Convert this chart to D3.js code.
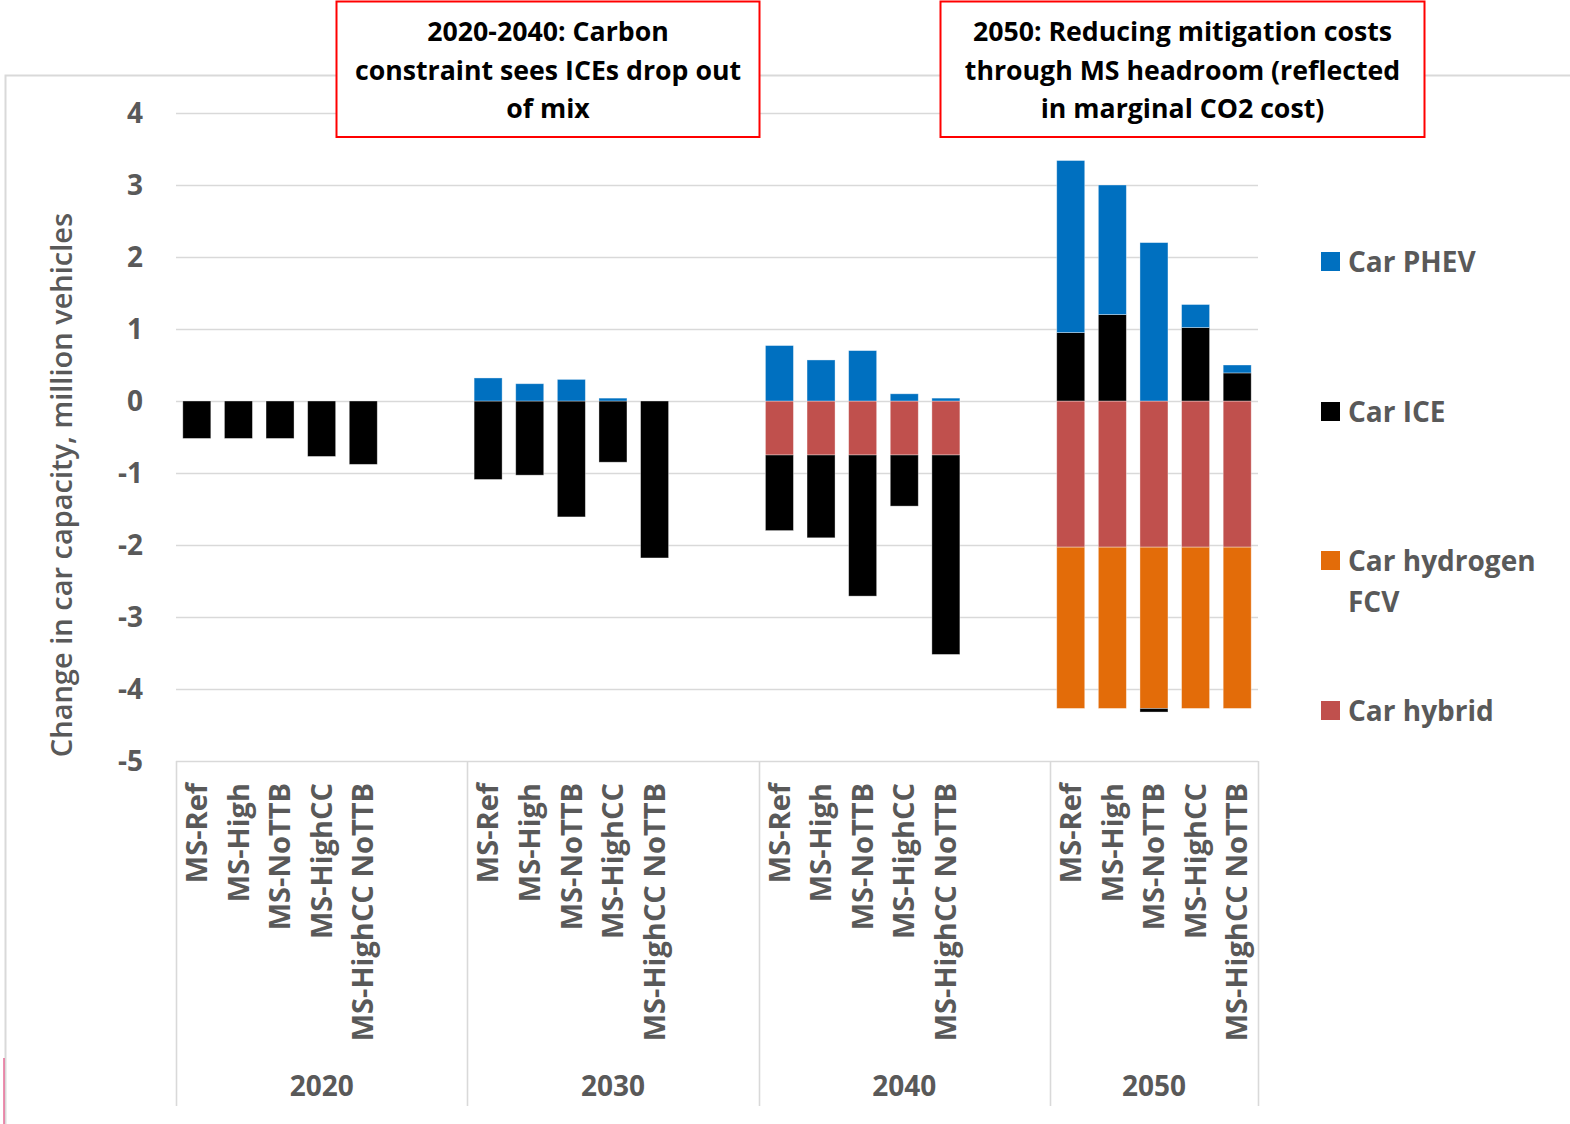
<!DOCTYPE html>
<html><head><meta charset="utf-8">
<script src="https://cdn.jsdelivr.net/npm/d3@7/dist/d3.min.js"></script>
<style>
html,body{margin:0;padding:0;background:#fff;}
svg{display:block;}
text{font-family:"Open Sans",sans-serif;}
</style></head>
<body>
<svg id="chart" width="1570" height="1124"></svg>
<script>
// ---------- data ----------
const years = ["2020", "2030", "2040", "2050"];
const scenarios = ["MS-Ref", "MS-High", "MS-NoTTB", "MS-HighCC", "MS-HighCC NoTTB"];
// values per bar, ordered year by year, scenario by scenario
const carPHEV   = [0, 0, 0, 0, 0,   0.32, 0.24, 0.30, 0.04, 0,   0.77, 0.57, 0.70, 0.10, 0.04,   2.39, 1.80, 2.20, 0.32, 0.11];
const carICE    = [-0.52, -0.52, -0.52, -0.77, -0.88,   -1.09, -1.03, -1.61, -0.85, -2.18,   -1.05, -1.15, -1.96, -0.71, -2.77,   0.95, 1.20, -0.05, 1.02, 0.39];
const carFCV    = [0, 0, 0, 0, 0,   0, 0, 0, 0, 0,   0, 0, 0, 0, 0,   -2.24, -2.24, -2.24, -2.24, -2.24];
const carHybrid = [0, 0, 0, 0, 0,   0, 0, 0, 0, 0,   -0.75, -0.75, -0.75, -0.75, -0.75,   -2.03, -2.03, -2.03, -2.03, -2.03];
const yTicks = [4, 3, 2, 1, 0, -1, -2, -3, -4, -5];
const seriesNames = ["Car hybrid", "Car hydrogen FCV", "Car ICE", "Car PHEV"];
const seriesColors = ["#C0504D", "#E36C09", "#000000", "#0070C0"];
const legendOrder = ["Car PHEV", "Car ICE", "Car hydrogen FCV", "Car hybrid"];
const notes = [
  ["2020-2040: Carbon", "constraint sees ICEs drop out", "of mix"],
  ["2050: Reducing mitigation costs", "through MS headroom (reflected", "in marginal CO2 cost)"]
];

// ---------- build table ----------
const slotsPerGroup = 7; // 5 bars + 2 empty slots
const nSlots = slotsPerGroup * (years.length - 1) + scenarios.length;
const rows = [];
years.forEach((yr, g) => scenarios.forEach((sc, i) => {
  const k = g * scenarios.length + i;
  rows.push({slot: g * slotsPerGroup + i, year: yr, scenario: sc,
    "Car hybrid": carHybrid[k], "Car hydrogen FCV": carFCV[k], "Car ICE": carICE[k], "Car PHEV": carPHEV[k]});
}));

const svg = d3.select("#chart");
const plotL = 176, plotR = 1258, plotT = 113, plotB = 761;
const gray = "#595959", grid = "#D9D9D9";

const pi = 0.327;
const x = d3.scaleBand().domain(d3.range(nSlots)).range([plotL, plotR]).paddingInner(pi).paddingOuter(pi / 2);
const y = d3.scaleLinear().domain([-5, 4]).range([plotB, plotT]);

// chart border
svg.append("path").attr("d", `M5.5,1124 V75.5 H1570`).attr("fill", "none").attr("stroke", grid).attr("stroke-width", 2);
svg.append("line").attr("x1", 4).attr("x2", 4).attr("y1", 1058).attr("y2", 1124).attr("stroke", "#E0457B").attr("stroke-width", 1.2);

// gridlines
svg.append("g").selectAll("line").data(yTicks).join("line")
  .attr("x1", plotL).attr("x2", plotR)
  .attr("y1", d => Math.round(y(d)) + 0.5).attr("y2", d => Math.round(y(d)) + 0.5)
  .attr("stroke", grid).attr("stroke-width", 1.6);

// y axis labels
const yAxis = d3.axisLeft(y).tickValues(yTicks).tickSize(0).tickPadding(0).tickFormat(d => String(d));
const ya = svg.append("g").attr("transform", `translate(143,0)`).call(yAxis);
ya.select(".domain").remove();
ya.selectAll("text").attr("fill", gray).attr("font-size", 28).attr("font-weight", 700)
  .attr("font-family", "Open Sans").attr("dy", "0.35em");

// bars
const stack = d3.stack().keys(seriesNames).offset(d3.stackOffsetDiverging);
const stacked = stack(rows);
const color = d3.scaleOrdinal().domain(seriesNames).range(seriesColors);
svg.append("g").selectAll("g").data(stacked).join("g")
  .attr("fill", d => color(d.key))
  .selectAll("rect").data(d => d.filter(p => p[1] - p[0] !== 0)).join("rect")
  .attr("x", d => x(d.data.slot))
  .attr("width", x.bandwidth())
  .attr("y", d => y(d[1]))
  .attr("height", d => y(d[0]) - y(d[1]))
  .attr("stroke", "#fff").attr("stroke-opacity", 0.45).attr("stroke-width", 0.8);

// category axis: separators
const step = x.step();
const seps = years.map((_, g) => plotL + g * slotsPerGroup * step).concat([plotR]);
svg.append("g").selectAll("line").data(seps).join("line")
  .attr("x1", d => Math.round(d) + 0.5).attr("x2", d => Math.round(d) + 0.5)
  .attr("y1", plotB).attr("y2", 1106)
  .attr("stroke", grid).attr("stroke-width", 1.6);

// scenario labels
svg.append("g").selectAll("text").data(rows).join("text")
  .attr("transform", d => `translate(${x(d.slot) + x.bandwidth() / 2},783) rotate(-90)`)
  .attr("text-anchor", "end").attr("dy", "0.35em")
  .attr("fill", gray).attr("font-size", 29).attr("font-weight", 700)
  .text(d => d.scenario);

// year labels
svg.append("g").selectAll("text").data(years).join("text")
  .attr("x", (d, g) => (seps[g] + seps[g + 1]) / 2).attr("y", 1096)
  .attr("text-anchor", "middle")
  .attr("fill", gray).attr("font-size", 28).attr("font-weight", 700)
  .text(d => d);

// y title
svg.append("text")
  .attr("transform", `translate(62,485) rotate(-90)`)
  .attr("text-anchor", "middle").attr("dy", "0.35em")
  .attr("fill", gray).attr("font-size", 29).attr("font-weight", 600)
  .text("Change in car capacity, million vehicles");

// legend
const legY = [252, 402, 551, 701];
const lg = svg.append("g").selectAll("g").data(legendOrder).join("g")
  .attr("transform", (d, i) => `translate(1321,${legY[i]})`);
lg.append("rect").attr("width", 19).attr("height", 19).attr("fill", d => color(d));
lg.append("text").attr("x", 27).attr("y", 20)
  .attr("fill", gray).attr("font-size", 28).attr("font-weight", 700)
  .each(function(d) {
    const t = d3.select(this);
    if (d === "Car hydrogen FCV") {
      t.append("tspan").attr("x", 27).text("Car hydrogen");
      t.append("tspan").attr("x", 27).attr("dy", 41).text("FCV");
    } else t.text(d);
  });

// annotation boxes
const boxes = [{x: 336.5, w: 423}, {x: 940.5, w: 484}];
boxes.forEach((b, i) => {
  const g = svg.append("g");
  g.append("rect").attr("x", b.x).attr("y", 1.5).attr("width", b.w).attr("height", 135.5)
    .attr("fill", "#fff").attr("stroke", "#FF0000").attr("stroke-width", 2);
  g.selectAll("text").data(notes[i]).join("text")
    .attr("x", b.x + b.w / 2).attr("y", (d, j) => 41 + j * 38.5)
    .attr("text-anchor", "middle").attr("fill", "#000")
    .attr("font-size", 26.7).attr("font-weight", 700)
    .text(d => d);
});
</script>
</body></html>
